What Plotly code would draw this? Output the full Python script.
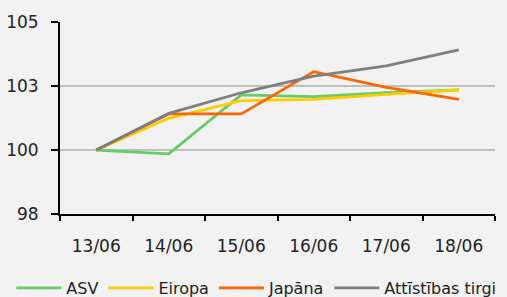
import plotly.graph_objects as go

dates = ["13/06", "14/06", "15/06", "16/06", "17/06", "18/06"]
asv = [100.33, 100.19, 102.34, 102.28, 102.42, 102.52]
eiropa = [100.33, 101.49, 102.13, 102.18, 102.36, 102.52]
japana = [100.33, 101.65, 101.65, 103.19, 102.62, 102.18]
attistibas = [100.33, 101.67, 102.42, 103.03, 103.40, 103.98]

y_tickvals = [98, 100.333, 102.667, 105]
y_ticktext = ["98", "100", "103", "105"]

series = [
    ("ASV", asv, "#66cc66"),
    ("Eiropa", eiropa, "#ffcc00"),
    ("Japāna", japana, "#ff6600"),
    ("Attīstības tirgi", attistibas, "#7f7f7f"),
]

FONT = "DejaVu Sans"

fig = go.Figure()
for name, vals, color in series:
    fig.add_trace(go.Scatter(x=dates, y=vals, name=name, mode="lines",
                             line=dict(color=color, width=2.8)))

fig.update_layout(
    width=507, height=297,
    margin=dict(l=60, r=12, t=22, b=83, autoexpand=False),
    paper_bgcolor="#f2f2f2", plot_bgcolor="#f2f2f2",
    font=dict(family=FONT, size=16, color="#222222"),
    showlegend=True,
    legend=dict(orientation="h", x=-0.112, xanchor="left", y=-0.385, yanchor="middle",
                font=dict(family=FONT, size=16, color="#222222"),
                bgcolor="rgba(0,0,0,0)", itemwidth=45, tracegroupgap=0),
    xaxis=dict(type="category", showline=True, linecolor="#000000", linewidth=2,
               ticks="outside", tickson="boundaries", ticklen=5, tickwidth=2,
               tickcolor="#000000", showgrid=False, ticklabelstandoff=16,
               tickfont=dict(size=17),
               range=[-0.5, 5.5], automargin=False),
    yaxis=dict(range=[98, 105], tickvals=y_tickvals, ticktext=y_ticktext,
               showline=True, linecolor="#000000", linewidth=2,
               ticks="outside", ticklen=7, tickwidth=2, tickcolor="#000000",
               tickfont=dict(size=17),
               showgrid=True, gridcolor="#bfbfbf", gridwidth=1.5,
               zeroline=False, ticklabelstandoff=9, automargin=False),
)

fig.write_html("out.html", config={"displayModeBar": False},
               post_script="document.body.style.margin='0';document.body.style.background='#f2f2f2';")
